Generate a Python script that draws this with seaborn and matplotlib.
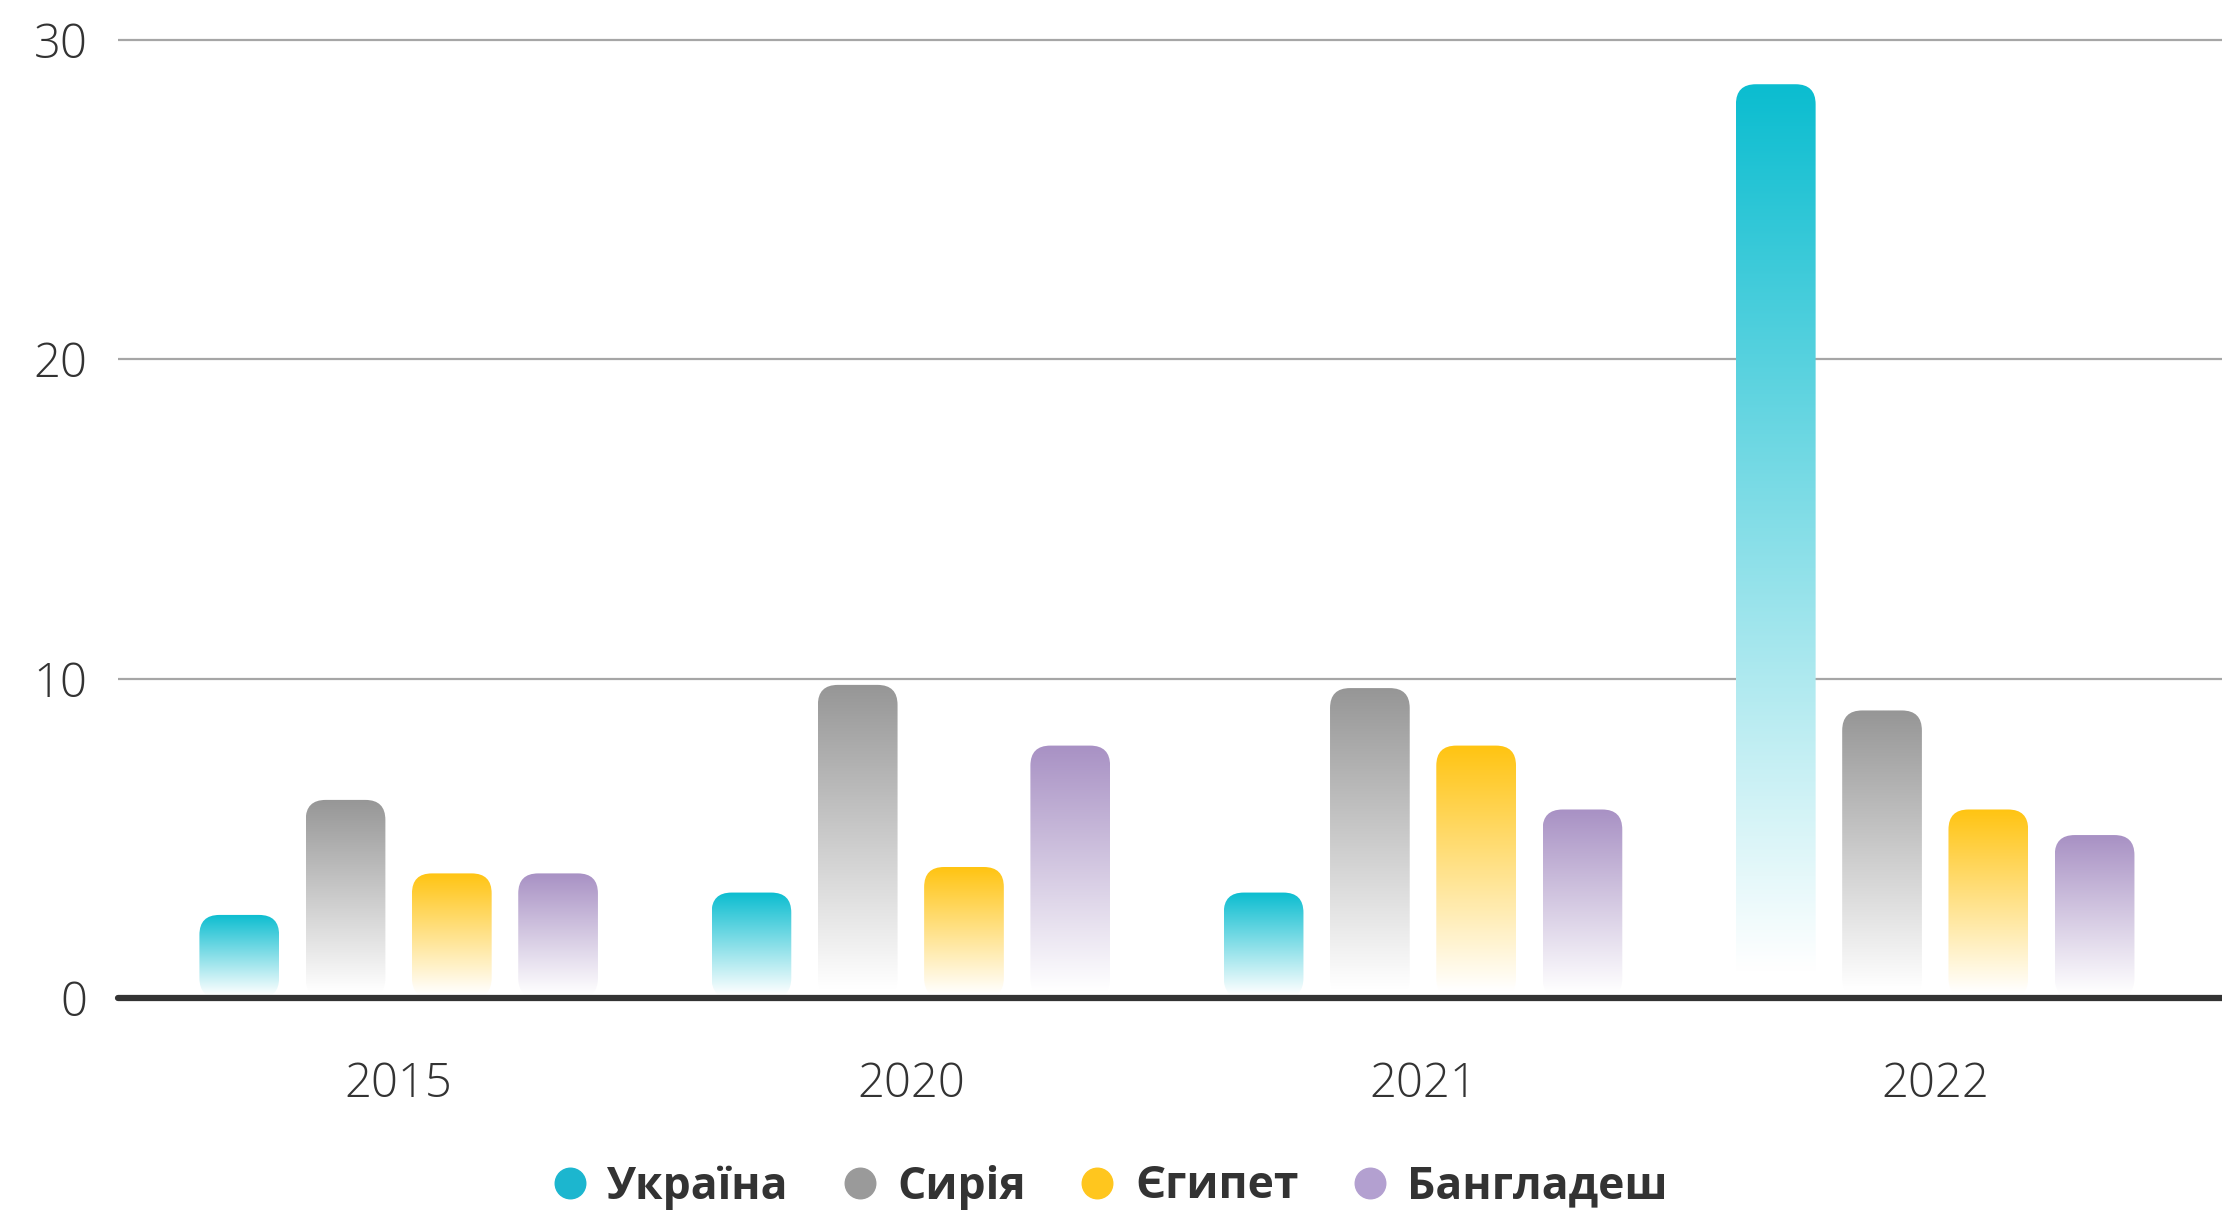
import numpy as np
import pandas as pd
import matplotlib
matplotlib.use("Agg")
import matplotlib.pyplot as plt
import seaborn as sns
from matplotlib.patches import FancyBboxPatch
from matplotlib.lines import Line2D
from matplotlib.colors import to_rgb

# ---- data ----
years = ["2015", "2020", "2021", "2022"]
countries = ["Україна", "Сирія", "Єгипет", "Бангладеш"]
ukraine = [2.6, 3.3, 3.3, 28.6]
syria = [6.2, 9.8, 9.7, 9.0]
egypt = [3.9, 4.1, 7.9, 5.9]
bangladesh = [3.9, 7.9, 5.9, 5.1]
y_ticks = [0, 10, 20, 30]
bar_colors = ["#0BBDD0", "#969696", "#FFC412", "#A891C4"]
legend_colors = ["#1CB6CF", "#9A9A9A", "#FFC61E", "#B3A0D0"]

series = [ukraine, syria, egypt, bangladesh]
rows = []
for c, vals in zip(countries, series):
    for y, v in zip(years, vals):
        rows.append({"year": y, "country": c, "value": v})
df = pd.DataFrame(rows)

sns.set_theme(style="white")
plt.rcParams['font.family'] = ['Open Sans', 'DejaVu Sans']

W, H = 2222, 1211
fig = plt.figure(figsize=(W / 100, H / 100), dpi=100)
fig.patch.set_facecolor("white")

y0_px = 998
px_per_unit = 31.95
ymax = 31
top_px = y0_px - ymax * px_per_unit
ax = fig.add_axes([118 / W, 1 - y0_px / H, 1 - 118 / W, (y0_px - top_px) / H])

sns.barplot(data=df, x="year", y="value", hue="country", order=years,
            hue_order=countries, palette=bar_colors, saturation=1,
            width=0.83, gap=0.25, ax=ax, legend=False)

xlim = (-0.548, 3.56)
ax.set_xlim(*xlim)
ax.set_ylim(0, ymax)

# ---- gradient rounded bars ----
px_x = ax.transData.transform((1, 0))[0] - ax.transData.transform((0, 0))[0]
px_y = ax.transData.transform((0, 1))[1] - ax.transData.transform((0, 0))[1]
r_px = 20
rx = r_px / px_x
asp = px_x / px_y
rgb_list = [np.array(to_rgb(c)) for c in bar_colors]

for p in list(ax.patches):
    h = p.get_height()
    if not np.isfinite(h) or h <= 0:
        continue
    x0, w = p.get_x(), p.get_width()
    fc = np.array(p.get_facecolor()[:3])
    idx = int(np.argmin([np.sum((fc - c) ** 2) for c in rgb_list]))
    base = rgb_list[idx]
    p.set_visible(False)
    box = FancyBboxPatch((x0, 0), w, h,
                         boxstyle=f"round,pad=0,rounding_size={rx}",
                         mutation_aspect=asp, transform=ax.transData,
                         facecolor="none", edgecolor="none")
    ax.add_patch(box)
    n = 256
    t = np.linspace(0, 1, n)[:, None]
    t = np.clip(t * 1.03, 0, 1)
    arr = base[None, :] * (1 - t) + np.ones(3)[None, :] * t
    arr = arr[:, None, :]
    im = ax.imshow(arr, extent=(x0, x0 + w, 0, h), origin="upper",
                   aspect="auto", interpolation="bilinear", zorder=2)
    im.set_clip_path(box)

ax.set_xlim(*xlim)
ax.set_ylim(0, ymax)

# ---- axes styling ----
for s in ax.spines.values():
    s.set_visible(False)
ax.set_yticks(y_ticks)
ax.set_yticklabels([str(v) for v in y_ticks])
ax.yaxis.grid(True, color="#a6a6a6", lw=1.6)
ax.xaxis.grid(False)
ax.set_axisbelow(True)
ax.axhline(0, color="#333333", lw=4.5, zorder=5, clip_on=False)
ax.tick_params(axis="y", length=0, pad=22, labelsize=34, labelcolor="#333333")
ax.tick_params(axis="x", length=0, pad=45, labelsize=34, labelcolor="#333333")
for lbl in ax.get_xticklabels() + ax.get_yticklabels():
    lbl.set_fontweight("light")
ax.set_xlabel("")
ax.set_ylabel("")

handles = [Line2D([0], [0], marker="o", ls="none", markersize=22,
                  markerfacecolor=c, markeredgecolor=c) for c in legend_colors]
fig.legend(handles, countries, loc="center", bbox_to_anchor=(0.5, 1 - 1187 / H),
           ncol=4, frameon=False, prop={"weight": "bold", "size": 32},
           handletextpad=0.5, columnspacing=1.25, handlelength=0.7,
           labelcolor="#333333")

fig.savefig("out.png", dpi=100, facecolor="white")
